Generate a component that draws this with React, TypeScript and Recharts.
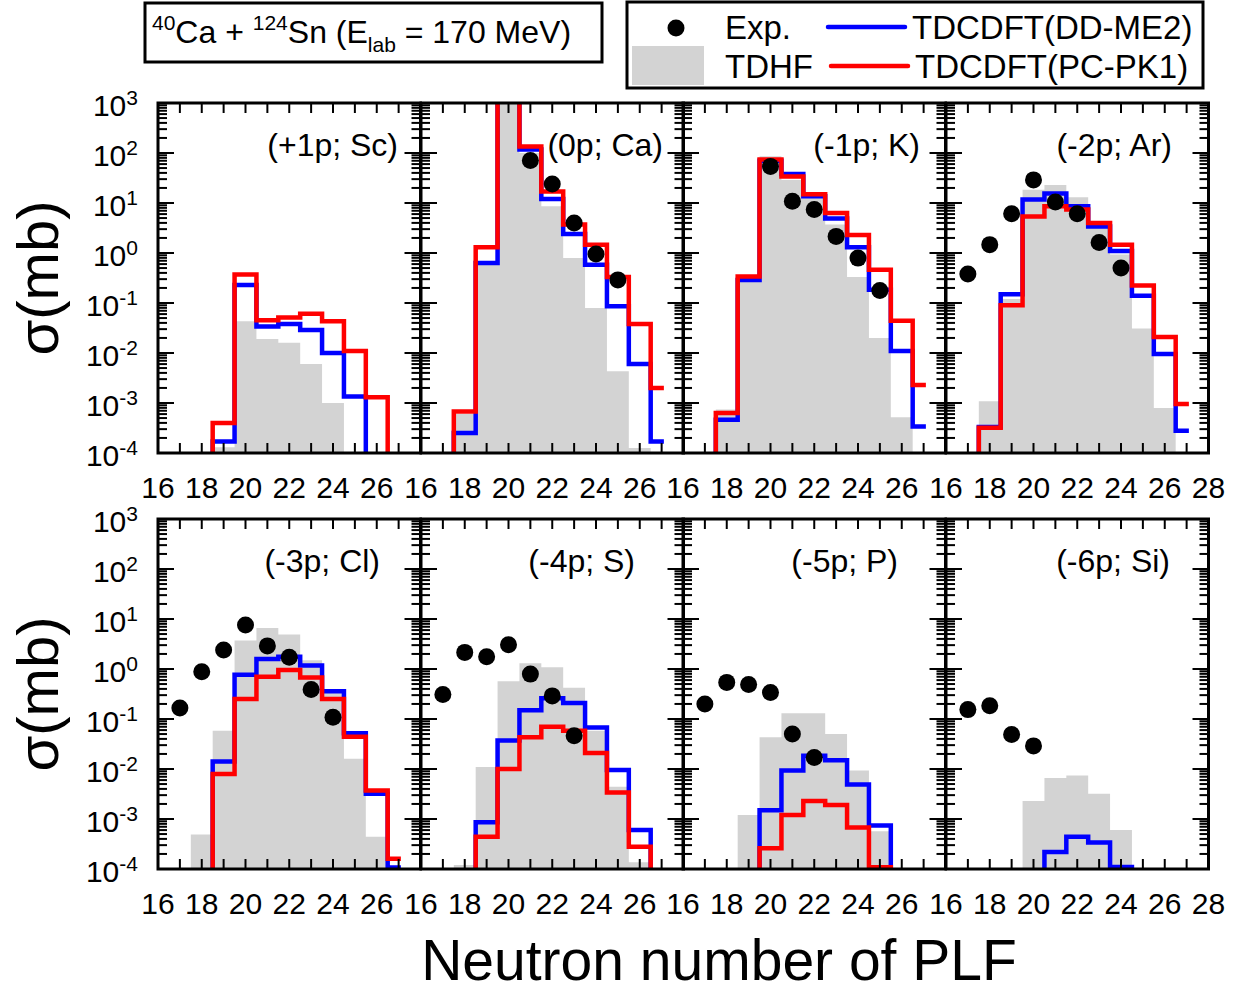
import React from 'react';
import { ComposedChart, Area, Line, Scatter, XAxis, YAxis } from 'recharts';

// value used for bins that sit below the 10^-4 floor of the log axis
const OFF = 1e-6;

const NEUTRONS = [16, 17, 18, 19, 20, 21, 22, 23, 24, 25, 26, 27, 28];
const DECADES = [-4, -3, -2, -1, 0, 1, 2, 3];
const MANTISSAS = [1, 2, 3, 4, 5, 6, 7, 8, 9];

// (+1p; Sc)
const SC_TDHF = [null, null, OFF, 1.3e-4, 0.043, 0.019, 0.016, 0.006, 1.0e-3, OFF, null, null, null];
const SC_DD = [null, null, OFF, 1.7e-4, 0.23, 0.034, 0.038, 0.029, 0.01, 1.35e-3, OFF, null, null];
const SC_PC = [null, null, OFF, 4e-4, 0.37, 0.045, 0.051, 0.061, 0.043, 0.011, 1.3e-3, OFF, null];
const SC_EXP = [null, null, null, null, null, null, null, null, null, null, null, null, null];

// (0p; Ca)
const CA_TDHF = [null, OFF, 6e-4, 0.6, 3000, 100, 8.6, 0.79, 0.079, 0.0043, 1.26e-4, OFF, null];
const CA_DD = [null, OFF, 2.5e-4, 0.63, 2000, 117, 12, 2.4, 0.58, 0.086, 0.006, 1.7e-4, null];
const CA_PC = [null, OFF, 6.8e-4, 1.3, 3000, 135, 17, 3.7, 1.47, 0.33, 0.038, 0.002, null];
const CA_EXP = [null, null, null, null, null, 71, 24, 4.0, 0.95, 0.29, null, null, null];

// (-1p; K)
const K_TDHF = [null, OFF, 7.4e-4, 0.3, 86, 29, 12.6, 3.7, 0.33, 0.02, 5.2e-4, OFF, null];
const K_DD = [null, OFF, 4.6e-4, 0.29, 70, 38, 13.6, 4.9, 1.3, 0.185, 0.011, 3.4e-4, null];
const K_PC = [null, OFF, 6.3e-4, 0.34, 74, 34, 15, 6.3, 2.3, 0.46, 0.044, 0.0023, null];
const K_EXP = [null, null, null, null, 54, 10.8, 7.4, 2.15, 0.79, 0.177, null, null, null];

// (-2p; Ar)
const AR_TDHF = [null, OFF, 1.08e-3, 0.12, 18.5, 23, 13, 3.4, 0.93, 0.031, 7.9e-4, OFF, null];
const AR_DD = [null, OFF, 3.3e-4, 0.15, 11.7, 15.4, 8.6, 3.4, 1.1, 0.14, 0.0096, 2.8e-4, null];
const AR_PC = [null, OFF, 3.2e-4, 0.09, 5.4, 8.6, 7.4, 4.0, 1.47, 0.225, 0.021, 9.6e-4, null];
const AR_EXP = [null, 0.38, 1.47, 6.1, 29, 10.5, 6.1, 1.63, 0.5, null, null, null, null];

// (-3p; Cl)
const CL_TDHF = [null, OFF, 4.9e-4, 0.058, 3.7, 6.6, 4.9, 1.5, 0.37, 0.016, 4.4e-4, OFF, null];
const CL_DD = [null, null, OFF, 0.0142, 0.77, 1.58, 1.76, 1.17, 0.36, 0.052, 0.0032, 1.07e-4, null];
const CL_PC = [null, null, OFF, 0.0079, 0.25, 0.7, 0.95, 0.68, 0.25, 0.044, 0.0037, 1.6e-4, null];
const CL_EXP = [null, 0.166, 0.885, 2.4, 7.6, 2.9, 1.71, 0.39, 0.108, null, null, null, null];

// (-4p; S)
const S_TDHF = [null, OFF, 1.2e-4, 0.011, 0.57, 1.3, 1.08, 0.42, 0.058, 0.0044, 1.36e-4, OFF, null];
const S_DD = [null, null, OFF, 8.6e-4, 0.037, 0.15, 0.26, 0.21, 0.068, 0.0096, 6e-4, OFF, null];
const S_PC = [null, null, OFF, 4.4e-4, 0.01, 0.043, 0.07, 0.058, 0.021, 0.0034, 2.8e-4, OFF, null];
const S_EXP = [null, 0.31, 2.15, 1.76, 3.07, 0.79, 0.29, 0.046, null, null, null, null, null];

// (-5p; P)
const P_TDHF = [null, null, OFF, 1.2e-3, 0.043, 0.13, 0.13, 0.05, 9.3e-3, 5.7e-4, OFF, null, null];
const P_DD = [null, null, null, OFF, 1.5e-3, 9.3e-3, 0.0185, 0.015, 4.9e-3, 7.4e-4, OFF, null, null];
const P_PC = [null, null, null, OFF, 2.6e-4, 1.2e-3, 2.3e-3, 1.9e-3, 6.8e-4, 1.08e-4, OFF, null, null];
const P_EXP = [null, 0.2, 0.54, 0.49, 0.34, 0.05, 0.017, null, null, null, null, null, null];

// (-6p; Si)
const SI_TDHF = [null, null, null, OFF, 2.3e-3, 6.6e-3, 7.4e-3, 3.2e-3, 6e-4, OFF, null, null, null];
const SI_DD = [null, null, null, null, OFF, 2.2e-4, 4.4e-4, 3.4e-4, 1.1e-4, OFF, null, null, null];
const SI_PC = [null, null, null, null, null, null, null, null, null, null, null, null, null];
const SI_EXP = [null, 0.154, 0.185, 0.049, 0.029, null, null, null, null, null, null, null, null];

const PANEL_LABELS = ['(+1p; Sc)', '(0p; Ca)', '(-1p; K)', '(-2p; Ar)', '(-3p; Cl)', '(-4p; S)', '(-5p; P)', '(-6p; Si)'];

const PANELS = [
  { tdhf: SC_TDHF, dd: SC_DD, pc: SC_PC, exp: SC_EXP },
  { tdhf: CA_TDHF, dd: CA_DD, pc: CA_PC, exp: CA_EXP },
  { tdhf: K_TDHF, dd: K_DD, pc: K_PC, exp: K_EXP },
  { tdhf: AR_TDHF, dd: AR_DD, pc: AR_PC, exp: AR_EXP },
  { tdhf: CL_TDHF, dd: CL_DD, pc: CL_PC, exp: CL_EXP },
  { tdhf: S_TDHF, dd: S_DD, pc: S_PC, exp: S_EXP },
  { tdhf: P_TDHF, dd: P_DD, pc: P_PC, exp: P_EXP },
  { tdhf: SI_TDHF, dd: SI_DD, pc: SI_PC, exp: SI_EXP },
];

const Y_TICKS: number[] = [];
DECADES.forEach(d => {
  MANTISSAS.forEach(m => {
    if (d < 3 || m === 1) Y_TICKS.push(m * Math.pow(10, d));
  });
});

const FONT = '"Liberation Sans", Arial, Helvetica, sans-serif';
const COLORS = { tdhf: '#d3d3d3', dd: '#0000ff', pc: '#ff0000', exp: '#000000' };

// layout (page pixels)
const PLOT_LEFT = 158;
const PW = 262.5;
const PH = 350;
const ROW_TOPS = [103, 519];
const MT = 26;
const MB = 60;
const AXIS_SIZE = 1; // recharts skips axes of zero size
// right edges of the panel tags
const LABEL_RIGHT = [398, 663, 920, 1172, 380, 635, 898, 1170];

function Panel({ idx }: { idx: number }) {
  const col = idx % 4;
  const row = Math.floor(idx / 4);
  const ML = col === 0 ? 160 : 26;
  const MR = col === 3 ? 34 : 26;
  const p = PANELS[idx];
  const rows = NEUTRONS.map((n, i) => ({ n, tdhf: p.tdhf[i], dd: p.dd[i], pc: p.pc[i] }));
  const expRows = NEUTRONS.map((n, i) => ({ n, exp: p.exp[i] })).filter(r => r.exp != null);
  const bottom = MT + PH;

  const renderXTick = (props: any) => {
    const { x, payload, index } = props;
    const v = payload.value;
    const labelled = v % 2 === 0 && (v < 28 || col === 3);
    return (
      <g>
        {index === 0 && (
          <rect x={ML} y={MT} width={PW} height={PH} fill="none" stroke="#000" strokeWidth={3} />
        )}
        <line x1={x} x2={x} y1={bottom} y2={bottom - 10} stroke="#000" strokeWidth={2} />
        <line x1={x} x2={x} y1={MT} y2={MT + 10} stroke="#000" strokeWidth={2} />
        {labelled && (
          <text x={x} y={bottom + 45} textAnchor="middle" fontSize={30} fontFamily={FONT} fill="#000">
            {v}
          </text>
        )}
      </g>
    );
  };

  const renderYTick = (props: any) => {
    const { y, payload } = props;
    const v = payload.value;
    const lg = Math.log10(v);
    const major = Math.abs(lg - Math.round(lg)) < 1e-6;
    const len = major ? 16 : 9;
    return (
      <g>
        <line x1={ML} x2={ML + len} y1={y} y2={y} stroke="#000" strokeWidth={2} />
        <line x1={ML + PW} x2={ML + PW - len} y1={y} y2={y} stroke="#000" strokeWidth={2} />
        {major && col === 0 && (
          <text x={ML - 20} y={y + 13} textAnchor="end" fontSize={30} fontFamily={FONT} fill="#000">
            10
            <tspan fontSize={21} dy={-11}>
              {String(Math.round(lg))}
            </tspan>
          </text>
        )}
      </g>
    );
  };

  const renderDot = (props: any) => <circle cx={props.cx} cy={props.cy} r={8.5} fill={COLORS.exp} />;

  return (
    <div
      style={{
        position: 'absolute',
        left: PLOT_LEFT + col * PW - ML,
        top: ROW_TOPS[row] - MT,
        width: ML + PW + MR,
        height: MT + PH + MB,
      }}
    >
      <ComposedChart
        width={ML + PW + MR}
        height={MT + PH + MB}
        data={rows}
        margin={{ top: MT, right: MR, bottom: MB - AXIS_SIZE, left: ML - AXIS_SIZE }}
      >
        <Area
          dataKey="tdhf"
          type="step"
          fill={COLORS.tdhf}
          fillOpacity={1}
          stroke="none"
          baseValue={1e-4}
          dot={false}
          activeDot={false}
          isAnimationActive={false}
        />
        <Line
          dataKey="dd"
          type="step"
          stroke={COLORS.dd}
          strokeWidth={4.5}
          strokeLinecap="square"
          dot={false}
          activeDot={false}
          isAnimationActive={false}
        />
        <Line
          dataKey="pc"
          type="step"
          stroke={COLORS.pc}
          strokeWidth={4.5}
          strokeLinecap="square"
          dot={false}
          activeDot={false}
          isAnimationActive={false}
        />
        <Scatter data={expRows} dataKey="exp" shape={renderDot} isAnimationActive={false} />
        <XAxis
          dataKey="n"
          type="number"
          domain={[16, 28]}
          ticks={NEUTRONS}
          interval={0}
          height={AXIS_SIZE}
          axisLine={false}
          tickLine={false}
          tick={renderXTick}
          allowDataOverflow
        />
        <YAxis
          type="number"
          scale="log"
          domain={[1e-4, 1e3]}
          ticks={Y_TICKS}
          interval={0}
          width={AXIS_SIZE}
          axisLine={false}
          tickLine={false}
          tick={renderYTick}
          allowDataOverflow
        />
      </ComposedChart>
    </div>
  );
}

function Overlay() {
  return (
    <svg
      width={1242}
      height={993}
      style={{ position: 'absolute', left: 0, top: 0, pointerEvents: 'none' }}
      fontFamily={FONT}
    >
      {/* reaction box */}
      <rect x={145} y={3} width={457} height={59} fill="none" stroke="#000" strokeWidth={3} />
      <text x={152} y={43} fontSize={32} fill="#000">
        <tspan fontSize={21} dy={-13}>40</tspan>
        <tspan dy={13}>{'Ca + '}</tspan>
        <tspan fontSize={21} dy={-13}>124</tspan>
        <tspan dy={13}>{'Sn (E'}</tspan>
        <tspan fontSize={21} dy={9}>lab</tspan>
        <tspan dy={-9}>{' = 170 MeV)'}</tspan>
      </text>

      {/* legend */}
      <rect x={627} y={2} width={576} height={86} fill="none" stroke="#000" strokeWidth={3} />
      <circle cx={676} cy={28} r={8.5} fill={COLORS.exp} />
      <text x={725} y={39} fontSize={33} fill="#000">Exp.</text>
      <line x1={828} x2={905} y1={27} y2={27} stroke={COLORS.dd} strokeWidth={4.5} strokeLinecap="round" />
      <text x={912} y={39} fontSize={33} fill="#000">TDCDFT(DD-ME2)</text>
      <rect x={632} y={46} width={72} height={39} fill={COLORS.tdhf} />
      <text x={725} y={78} fontSize={33} fill="#000">TDHF</text>
      <line x1={831} x2={908} y1={66} y2={66} stroke={COLORS.pc} strokeWidth={4.5} strokeLinecap="round" />
      <text x={915} y={78} fontSize={33} fill="#000">TDCDFT(PC-PK1)</text>

      {/* panel tags */}
      {PANEL_LABELS.map((label, i) => (
        <text
          key={label}
          x={LABEL_RIGHT[i]}
          y={ROW_TOPS[Math.floor(i / 4)] + 53}
          textAnchor="end"
          fontSize={32}
          fill="#000"
        >
          {label}
        </text>
      ))}

      {/* axis titles */}
      {ROW_TOPS.map(top => (
        <text
          key={top}
          x={58}
          y={top + PH / 2}
          transform={`rotate(-90, 58, ${top + PH / 2})`}
          textAnchor="middle"
          fontSize={58}
          fill="#000"
        >
          σ(mb)
        </text>
      ))}
      <text x={719} y={980} textAnchor="middle" fontSize={57} fill="#000">
        Neutron number of PLF
      </text>
    </svg>
  );
}

export default function App() {
  return (
    <div style={{ position: 'absolute', left: 0, top: 0, width: 1242, height: 993, background: '#fff' }}>
      {PANELS.map((_, i) => (
        <Panel key={i} idx={i} />
      ))}
      <Overlay />
    </div>
  );
}
